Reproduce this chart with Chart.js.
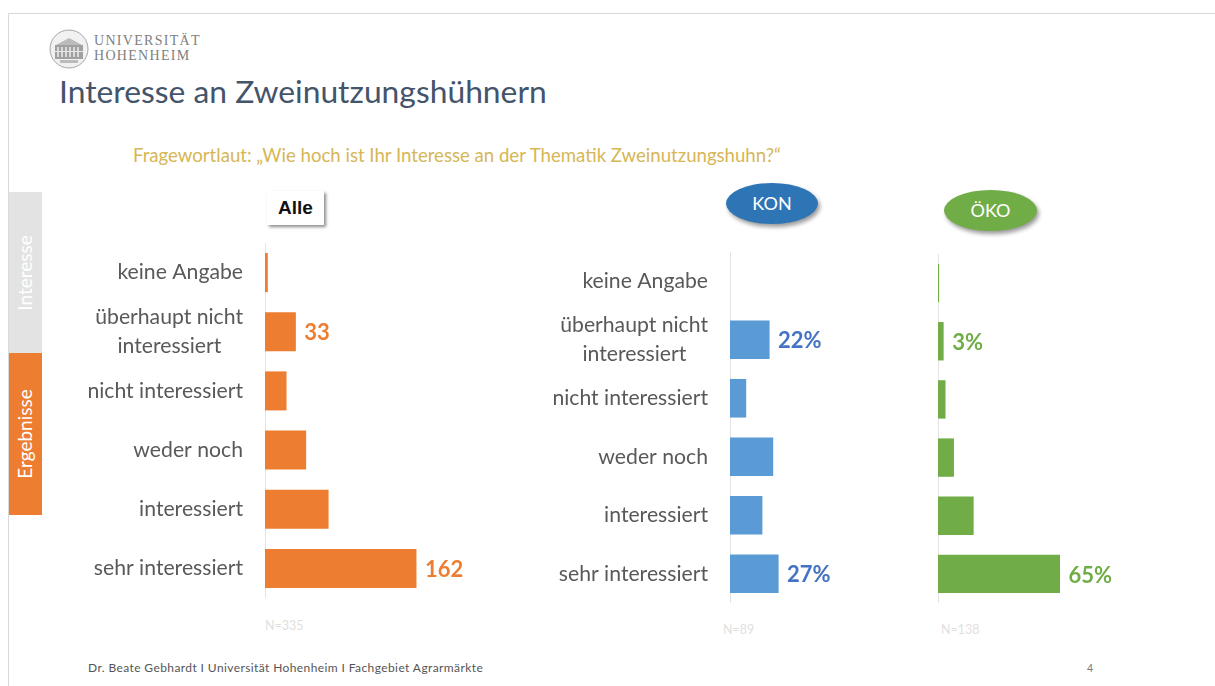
<!DOCTYPE html>
<html lang="de"><head><meta charset="utf-8">
<script src="https://cdn.jsdelivr.net/npm/chart.js@4"></script>
<style>
html,body{margin:0;padding:0;background:#fff;width:1215px;height:686px;overflow:hidden;font-family:Lato,sans-serif}
.a{position:absolute;white-space:nowrap}
canvas{position:absolute;display:block}
#frameT{left:8px;top:13px;width:1207px;height:1px;background:#d9d9d9}
#frameL{left:8px;top:13px;width:1px;height:673px;background:#d9d9d9}
#title{left:59px;top:71px;font-size:31.8px;line-height:40px;color:#44546a;font-weight:400}
#sub{left:133px;top:144px;font-size:18.6px;line-height:22px;color:#d6b656}
.tab{left:9px;width:33px;color:#fff;font-size:19px}
.tab span{position:absolute;left:calc(50% - 2px);top:50%;transform:translate(-50%,-50%) rotate(-90deg)}
#t1{top:192px;height:161px;background:#e3e3e3}
#t2{top:353px;height:162px;background:#ed7d31}
#alle{left:267px;top:191px;width:57px;height:34px;text-align:center;background:#fff;font:bold 19px/33px "Liberation Sans";color:#111;box-shadow:2px 2px 3px #8c8c8c}
.ell{width:92px;height:41px;border-radius:50%;color:#fff;text-align:center;font-size:18px;line-height:40px;box-shadow:2px 3px 4px #9a9a9a}
#kon{left:726px;top:183px;background:#2e75b6}
#oko{left:944px;top:190px;background:#70ad47;width:93px}
.n{font-size:12.5px;color:#dfdfdf;top:618px}
#foot{left:88px;top:661px;font-size:12px;line-height:14px;color:#555;letter-spacing:.4px}
#pg{left:1087px;top:661px;font-size:10.5px;line-height:14px;color:#777}
#logoT{left:94px;top:34px;font:14px/14.5px "Liberation Serif";color:#808080;letter-spacing:1.3px}
</style></head><body>
<div class="a" id="frameT"></div><div class="a" id="frameL"></div>
<svg class="a" style="left:49px;top:29px;filter:blur(.5px)" width="40" height="40" viewBox="0 0 40 40">
<circle cx="20" cy="20" r="19" fill="#f1f1f1" stroke="#a5a5a5" stroke-width="1"/>
<path d="M7 16 L20 9 L33 16 Z" fill="#bbb"/>
<rect x="6" y="16" width="28" height="14" fill="#a0a0a0"/>
<path d="M9 18v10M13 18v10M17 18v10M21 18v10M25 18v10M29 18v10" stroke="#e8e8e8" stroke-width="1.6"/>
<rect x="5" y="22" width="30" height="1" fill="#e8e8e8"/>
<rect x="11" y="31" width="18" height="3" fill="#bbb"/>
</svg>
<div class="a" id="logoT">UNIVERSITÄT<br>HOHENHEIM</div>
<div class="a" id="title">Interesse an Zweinutzungshühnern</div>
<div class="a" id="sub">Fragewortlaut: „Wie hoch ist Ihr Interesse an der Thematik Zweinutzungshuhn?“</div>
<div class="a tab" id="t1"><span>Interesse</span></div>
<div class="a tab" id="t2"><span>Ergebnisse</span></div>
<div class="a" id="alle">Alle</div>
<div class="a ell" id="kon">KON</div>
<div class="a ell" id="oko">ÖKO</div>
<div class="a n" style="left:265px">N=335</div>
<div class="a n" style="left:723px;top:622px">N=89</div>
<div class="a n" style="left:941px;top:622px">N=138</div>
<div class="a" id="foot">Dr. Beate Gebhardt I Universität Hohenheim I Fachgebiet Agrarmärkte</div>
<div class="a" id="pg">4</div>
<canvas id="cAlle" style="left:40px;top:243px" width="450" height="355"></canvas>
<canvas id="cKon" style="left:520px;top:252px" width="330" height="351"></canvas>
<canvas id="cOko" style="left:880px;top:254px" width="260" height="349"></canvas>
<script>
const categories = ["keine Angabe","überhaupt nicht interessiert","nicht interessiert","weder noch","interessiert","sehr interessiert"];
const valuesAlle = [3,33,23,44,68,162];
const valuesKon = [0,22,9,24,18,27];
const valuesOko = [0.6,3,4,8.5,19,65];
const labelsAlle = [null,"33",null,null,null,"162"];
const labelsKon = [null,"22%",null,null,null,"27%"];
const labelsOko = [null,"3%",null,null,null,"65%"];

const barLabels = {
  id:"barLabels",
  afterDatasetsDraw(chart, args, o){
    const ctx = chart.ctx;
    chart.getDatasetMeta(0).data.forEach((bar,i)=>{
      if(!o.labels[i]) return;
      ctx.save();
      ctx.font = "bold 22px Lato";
      ctx.fillStyle = o.color;
      ctx.textAlign = "left";
      ctx.textBaseline = "middle";
      ctx.fillText(o.labels[i], bar.x + 8.5, bar.y + 1.5);
      ctx.restore();
    });
  }
};

function make(id, values, labels, color, labelColor, axisWidth, maxVal, withTicks){
  return new Chart(document.getElementById(id),{
    type:"bar",
    data:{labels:categories,datasets:[{data:values,backgroundColor:color,borderWidth:0,barPercentage:0.66,categoryPercentage:1}]},
    plugins:[barLabels],
    options:{
      indexAxis:"y",responsive:false,animation:false,
      layout:{padding:0},
      plugins:{legend:{display:false},tooltip:{enabled:false},barLabels:{labels,color:labelColor}},
      scales:{
        x:{display:false,min:0,max:maxVal,grid:{display:false}},
        y:{
          afterFit(s){s.width=axisWidth;s.paddingTop=0;s.paddingBottom=0;},
          grid:{display:false,drawTicks:false},
          border:{display:true,color:"#e4e4e4",width:1},
          ticks:{
            display:withTicks,padding:22,color:"#595959",autoSkip:false,
            font:{family:"Lato",size:21.2,lineHeight:1.33},
            callback(v,i){
              return i===1?["überhaupt nicht","interessiert    "]:categories[i];
            }
          }
        }
      }
    }
  });
}
make("cAlle",valuesAlle,labelsAlle,"#ed7d31","#ed7d31",225,225/0.935,true);
make("cKon",valuesKon,labelsKon,"#5b9bd5","#4472c4",210,120/1.8,true);
make("cOko",valuesOko,labelsOko,"#70ad47","#70ad47",58,202/1.877,false);
</script>
</body></html>
